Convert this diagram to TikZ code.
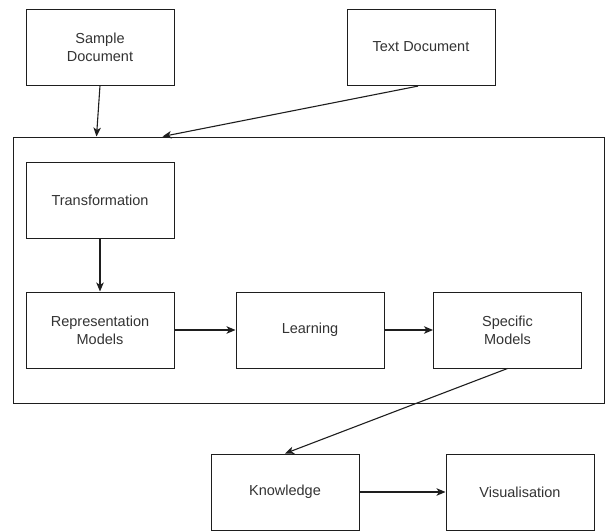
\documentclass[tikz,border=0pt]{standalone}
\usepackage{fontspec}
\setmainfont{Liberation Sans}
\usetikzlibrary{arrows.meta,calc}
\definecolor{ink}{HTML}{1E1E1E}
\definecolor{label}{HTML}{333333}
\tikzset{
  block/.style={draw=ink, line width=1pt, fill=white, minimum width=148pt,
    minimum height=76pt, inner sep=0pt, align=center, text=label,
    font=\fontsize{14.5}{18}\selectfont},
  frame/.style={draw=ink, line width=1pt, minimum width=591pt,
    minimum height=266pt, inner sep=0pt},
  link/.style={draw=ink, line width=1.1pt, -{Stealth[length=9pt,width=7.5pt,inset=2.5pt]}}
}
\begin{document}
\begin{tikzpicture}[x=1pt, y=-1pt]
  \useasboundingbox (0,0) rectangle (606,531);
  % outer process frame
  \node[frame] (proc) at (308.5,270) {};
  % inputs
  \node[block] (sample) at (100,47) {Sample\\Document};
  \node[block] (textdoc) at (421,47) {Text Document};
  % inner steps
  \node[block] (trans) at (100,200) {Transformation};
  \node[block] (repr) at (100,330) {Representation\\Models};
  \node[block] (learn) at (310,330) {Learning};
  \node[block] (spec) at (507.5,330) {Specific\\Models};
  % outputs
  \node[block] (know) at (285,492) {Knowledge};
  \node[block] (vis) at (520,492) {Visualisation};
  % entry points on the frame
  \coordinate (in1) at ($(proc.north west)+(84,0)$);
  \coordinate (in2) at ($(proc.north west)+(150,0)$);
  % connectors
  \draw[link] (sample.south) -- (in1);
  \draw[link, shorten <=3pt] (textdoc.south) -- (in2);
  \draw[link] (trans.south) -- (repr.north);
  \draw[link] (repr.east) -- (learn.west);
  \draw[link] (learn.east) -- (spec.west);
  \draw[link] (spec.south) -- (know.north);
  \draw[link] (know.east) -- (vis.west);
\end{tikzpicture}
\end{document}
